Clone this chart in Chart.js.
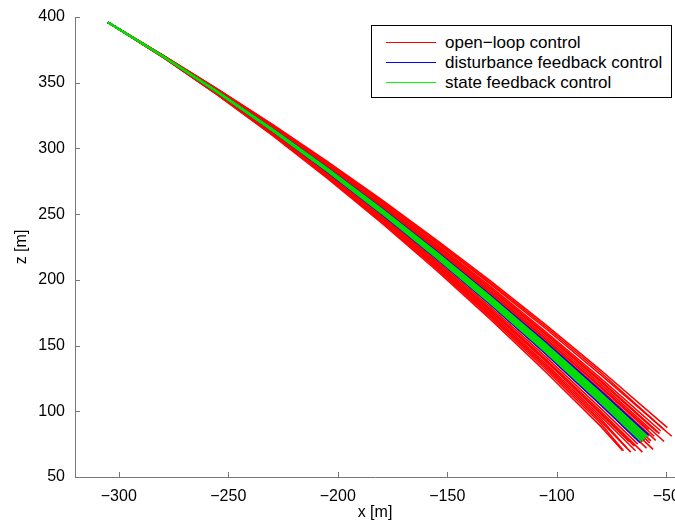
<!DOCTYPE html>
<html>
<head>
<meta charset="utf-8">
<script src="https://cdn.jsdelivr.net/npm/chart.js@4/dist/chart.umd.min.js"></script>
<style>
  html, body { margin: 0; padding: 0; background: #fff; }
  #wrap { position: relative; width: 675px; height: 524px; }
  #legend {
    position: absolute; left: 371px; top: 25px; width: 299px; height: 71px;
    border: 1px solid #000; background: #fff;
    font-family: "Liberation Sans", Arial, Helvetica, sans-serif; font-size: 17px; color: #000;
  }
  .item { position: absolute; left: 0; width: 298px; height: 20px; line-height: 20px; white-space: nowrap; }
  .swatch { position: absolute; left: 14px; top: 9px; width: 50px; height: 1px; }
  .txt { position: absolute; left: 73px; top: 0; }
</style>
</head>
<body>
<div id="wrap">
  <canvas id="chart" width="675" height="524"></canvas>
  <div id="legend"></div>
</div>
<script>
// x grid shared by every trajectory (x [m])
const gridX = [-305, -280, -255, -230, -205, -180, -155, -130, -105, -80];

// open-loop control: z [m] at gridX, then end point
const openLoopZ = [
  [396, 371.1, 345.2, 318.4, 290.3, 261.0, 230.5, 198.8, 165.7, 131.4],
  [396, 370.9, 344.6, 317.2, 288.4, 258.5, 227.1, 194.6, 160.5, 125.3],
  [396, 371.0, 344.8, 317.7, 289.2, 259.6, 228.6, 196.4, 162.8, 127.9],
  [396, 370.7, 344.1, 316.3, 287.1, 256.7, 224.8, 191.5, 156.9, 120.9],
  [396, 370.5, 343.7, 315.5, 285.8, 254.9, 222.4, 188.5, 153.2, 116.5],
  [396, 370.4, 343.3, 314.8, 284.8, 253.4, 220.4, 186.1, 150.2, 112.9],
  [396, 370.2, 342.8, 314.0, 283.5, 251.6, 218.0, 183.1, 146.5, 108.5],
  [396, 370.1, 342.5, 313.3, 282.4, 250.1, 216.1, 180.7, 143.6, 105.0],
  [396, 369.9, 341.9, 312.4, 281.0, 248.1, 213.5, 177.4, 139.5, 100.2],
  [396, 369.8, 341.5, 311.6, 279.8, 246.5, 211.3, 174.6, 136.2, 96.2],
  [396, 369.6, 341.2, 310.9, 278.8, 245.0, 209.4, 172.2, 133.3, 92.7],
  [396, 369.5, 340.7, 310.2, 277.6, 243.4, 207.3, 169.5, 129.9, 88.7],
  [396, 370.6, 343.9, 316.0, 286.6, 255.9, 223.8, 190.3, 155.4, 119.1],
  [396, 370.0, 342.2, 312.8, 281.7, 249.0, 214.7, 178.9, 141.4, 102.4],
  [396, 370.8, 344.3, 316.7, 287.7, 257.4, 225.7, 192.8, 158.3, 122.6],
  [396, 369.8, 341.7, 311.9, 280.4, 246.9, 212.3, 175.9, 138.3, 98.0],
  [396, 371.0, 345.0, 318.0, 289.7, 260.3, 229.5, 197.6, 164.2, 129.7],
  [396, 370.8, 344.4, 316.8, 287.9, 257.8, 226.2, 193.4, 159.1, 123.5],
  [396, 370.6, 343.8, 315.8, 286.4, 255.6, 223.3, 189.7, 154.6, 118.2],
  [396, 370.5, 343.5, 315.2, 285.3, 254.1, 221.4, 187.3, 151.7, 114.7],
  [396, 370.3, 343.1, 314.5, 284.3, 252.7, 219.5, 184.9, 148.7, 111.2],
  [396, 370.2, 342.6, 313.6, 283.0, 250.8, 217.1, 181.9, 145.1, 106.8],
  [396, 369.9, 341.8, 312.1, 280.6, 247.6, 212.8, 176.5, 138.4, 98.9],
  [396, 369.7, 341.3, 311.3, 279.3, 245.7, 210.4, 173.4, 134.7, 94.5],
  [396, 369.6, 341.0, 310.6, 278.3, 244.3, 208.5, 171.0, 131.8, 90.9]
];
const openLoopEnd = [
  [-49.5, 87.5], [-52.5, 85], [-47.5, 81], [-51, 77], [-54.8, 77.8],
  [-57, 77.5], [-56, 71], [-59, 72], [-60.9, 68.9], [-64, 70],
  [-66.2, 68.9], [-70, 70.2], [-58, 86], [-63, 75], [-54, 84],
  [-67, 77], [-51, 86], [-53, 83], [-55.5, 81], [-58, 81],
  [-57.5, 76], [-61, 76.5], [-64.5, 73.5], [-68, 72], [-69.5, 70]
];

// disturbance feedback control
const disturbanceZ = [
  [396, 370.5, 343.6, 315.3, 285.6, 254.5, 221.9, 187.9, 152.4, 115.6],
  [396, 370.4, 343.3, 314.8, 284.8, 253.4, 220.4, 186.1, 150.2, 112.9],
  [396, 370.3, 342.9, 314.1, 283.7, 251.9, 218.5, 183.7, 147.3, 109.4],
  [396, 370.2, 342.7, 313.8, 283.2, 251.2, 217.6, 182.5, 145.8, 107.7],
  [396, 370.1, 342.5, 313.3, 282.4, 250.1, 216.1, 180.7, 143.6, 105.0]
];
const disturbanceEnd = [[-58, 81.8], [-59, 80.4], [-60, 78], [-61, 77.6], [-62, 76.1]];

// state feedback control
const stateFbZ = [
  [396, 370.4, 343.4, 315.0, 285.0, 253.8, 220.9, 186.7, 151.0, 113.8],
  [396, 370.4, 343.2, 314.6, 284.5, 253.0, 220.0, 185.5, 149.5, 112.1],
  [396, 370.3, 343.0, 314.3, 284.0, 252.3, 219.0, 184.3, 148.0, 110.3],
  [396, 370.2, 342.8, 314.0, 283.5, 251.6, 218.0, 183.1, 146.5, 108.5],
  [396, 370.2, 342.6, 313.6, 283.0, 250.8, 217.1, 181.9, 145.1, 106.8]
];
const stateFbEnd = [[-58.5, 80.6], [-59.5, 80.2], [-60, 79], [-60.5, 77.8], [-61.5, 77.3]];

const xTicks = [-300, -250, -200, -150, -100, -50];
const yTicks = [50, 100, 150, 200, 250, 300, 350, 400];

const groups = [
  { label: 'open\u2212loop control', color: '#ff0000', key: '#ff0000', width: 1.6, z: openLoopZ, end: openLoopEnd, order: 3 },
  { label: 'disturbance feedback control', color: '#0000ff', key: '#0000ff', width: 1.6, z: disturbanceZ, end: disturbanceEnd, order: 2 },
  { label: 'state feedback control', color: '#00e000', key: '#00ff00', width: 2, z: stateFbZ, end: stateFbEnd, order: 1 }
];

const FONT = '"Liberation Sans", Arial, Helvetica, sans-serif';
const AXIS_COLOR = '#777777';

function buildDatasets() {
  const out = [];
  groups.forEach(g => {
    g.z.forEach((row, i) => {
      const pts = gridX.map((x, k) => ({ x: x, y: row[k] }));
      pts.push({ x: g.end[i][0], y: g.end[i][1] });
      out.push({
        data: pts,
        showLine: true,
        borderColor: g.color,
        backgroundColor: g.color,
        borderWidth: g.width,
        pointRadius: 0,
        tension: 0,
        order: g.order
      });
    });
  });
  return out;
}

// inward tick marks like MATLAB
const innerTicks = {
  id: 'innerTicks',
  afterDraw(chart) {
    const ctx = chart.ctx;
    const xs = chart.scales.x, ys = chart.scales.y;
    const a = chart.chartArea;
    ctx.save();
    ctx.strokeStyle = AXIS_COLOR;
    ctx.lineWidth = 1;
    ctx.beginPath();
    xTicks.forEach(v => {
      const px = Math.round(xs.getPixelForValue(v)) + 0.5;
      ctx.moveTo(px, a.bottom);
      ctx.lineTo(px, a.bottom - 5);
    });
    yTicks.forEach(v => {
      const py = Math.round(ys.getPixelForValue(v)) + 0.5;
      ctx.moveTo(a.left, py);
      ctx.lineTo(a.left + 5, py);
    });
    ctx.stroke();
    ctx.restore();
  }
};

function renderLegend() {
  const box = document.getElementById('legend');
  groups.forEach((g, i) => {
    const item = document.createElement('div');
    item.className = 'item';
    item.style.top = (7 + i * 20) + 'px';
    const sw = document.createElement('div');
    sw.className = 'swatch';
    sw.style.backgroundColor = g.key;
    const txt = document.createElement('div');
    txt.className = 'txt';
    txt.textContent = g.label;
    item.appendChild(sw);
    item.appendChild(txt);
    box.appendChild(item);
  });
}

function renderChart() {
  new Chart(document.getElementById('chart').getContext('2d'), {
    type: 'scatter',
    data: { datasets: buildDatasets() },
    options: {
      responsive: false,
      animation: false,
      events: [],
      layout: { padding: { top: 17, right: 0, left: 0, bottom: 0 } },
      plugins: { legend: { display: false }, tooltip: { enabled: false } },
      scales: {
        x: {
          type: 'linear', min: -320, max: -46,
          grid: { display: false },
          border: { display: true, color: AXIS_COLOR, width: 1 },
          afterBuildTicks: s => { s.ticks = xTicks.map(v => ({ value: v })); },
          afterFit: s => { s.height = 47; s.paddingLeft = 0; s.paddingRight = 0; },
          ticks: {
            color: '#000', padding: 2, maxRotation: 0, autoSkip: false,
            font: { family: FONT, size: 16 },
            callback: v => String(v).replace('-', '\u2212')
          },
          title: { display: true, text: 'x [m]', color: '#000', padding: { top: 0, bottom: 2 }, font: { family: FONT, size: 16 } }
        },
        y: {
          type: 'linear', min: 50, max: 400,
          grid: { display: false },
          border: { display: true, color: AXIS_COLOR, width: 1 },
          afterBuildTicks: s => { s.ticks = yTicks.map(v => ({ value: v })); },
          afterFit: s => { s.width = 75; s.paddingTop = 0; s.paddingBottom = 0; },
          ticks: {
            color: '#000', padding: 2, autoSkip: false,
            font: { family: FONT, size: 16 }
          },
          title: { display: true, text: 'z [m]', color: '#000', padding: { top: 12, bottom: 0 }, font: { family: FONT, size: 16 } }
        }
      }
    },
    plugins: [innerTicks]
  });
}

document.addEventListener('DOMContentLoaded', () => {
  renderChart();
  renderLegend();
});
</script>
</body>
</html>
